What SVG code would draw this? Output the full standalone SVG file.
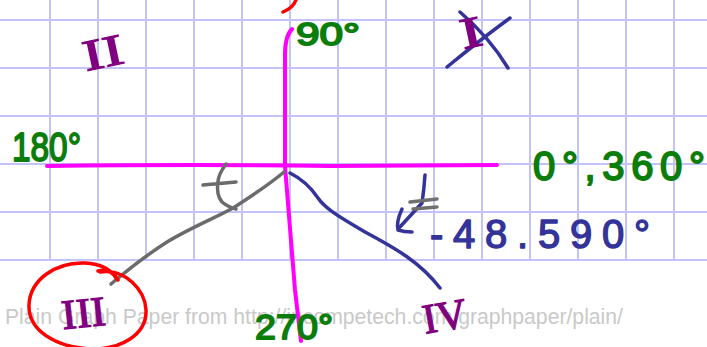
<svg xmlns="http://www.w3.org/2000/svg" width="707" height="347" viewBox="0 0 707 347">
<style>
.grid line{stroke:#c3c3f9;stroke-width:2}
.ink{fill:none;stroke-linecap:round;stroke-linejoin:round}
.mag{stroke:#ff00ff;stroke-width:4}
.green{fill:#0b7d0b;stroke:#0b7d0b;stroke-width:1.8;stroke-linejoin:round;font-family:"Liberation Sans",Arial,sans-serif}
.blue{fill:#333399;stroke:#333399;stroke-width:1.4;stroke-linejoin:round;font-family:"Liberation Sans",Arial,sans-serif}
.roman{fill:#800080;stroke:#800080;stroke-width:1.2;font-family:"Liberation Serif","Times New Roman",serif}
.wm{fill:#c9c9c9;font-family:"Liberation Sans",Arial,sans-serif;font-size:22px}
</style>
<rect width="707" height="347" fill="#ffffff"/>
<g id="grid" class="grid">
<line x1="50" y1="0" x2="50" y2="260"/><line x1="98" y1="0" x2="98" y2="260"/><line x1="146" y1="0" x2="146" y2="260"/><line x1="194" y1="0" x2="194" y2="260"/><line x1="242" y1="0" x2="242" y2="260"/><line x1="290" y1="0" x2="290" y2="260"/><line x1="338" y1="0" x2="338" y2="260"/><line x1="386" y1="0" x2="386" y2="260"/><line x1="434" y1="0" x2="434" y2="260"/><line x1="482" y1="0" x2="482" y2="260"/><line x1="530" y1="0" x2="530" y2="260"/><line x1="578" y1="0" x2="578" y2="260"/><line x1="626" y1="0" x2="626" y2="260"/><line x1="674" y1="0" x2="674" y2="260"/>
<line x1="0" y1="20" x2="707" y2="20"/><line x1="0" y1="68" x2="707" y2="68"/><line x1="0" y1="116" x2="707" y2="116"/><line x1="0" y1="164" x2="707" y2="164"/><line x1="0" y1="212" x2="707" y2="212"/><line x1="0" y1="260" x2="707" y2="260"/>
</g>
<text id="watermark" class="wm" x="5" y="324" textLength="618" lengthAdjust="spacingAndGlyphs">Plain Graph Paper from http://incompetech.com/graphpaper/plain/</text>
<g id="axes" class="ink mag">
<path d="M47,166 Q200,164 330,166 L497,165"/>
<path d="M292,29 Q285,36 285,55 L285,166 L295,290 L301,341"/>
</g>
<g id="connectors" class="ink">
<path id="red-tick" d="M283,12 Q293,8 296,0" stroke="#ff0000" stroke-width="3.5"/>
<path id="gray-ray" d="M284,172 C265,188 245,200 233,208 C215,218 190,228 167,242 C145,256 130,268 111,284" stroke="#6b6b6b" stroke-width="3.5"/>
<path id="blue-ray" d="M290,173 C300,178 310,186 318,198 C326,210 345,220 365,232 C395,248 420,262 440,288" stroke="#333399" stroke-width="3.5"/>
<path id="blue-arrow" d="M425,175 Q424,190 422,203 L399,228 M402,209 Q396,222 398,230 Q404,232 412,232" stroke="#333399" stroke-width="3.5"/>
<path id="gray-equal" d="M410,202 L437,199 M413,209 L437,207" stroke="#707070" stroke-width="3.5"/>
<path id="gray-mark" d="M226,164 Q218,175 218,182 Q216,195 222,202 Q228,207 236,209 M203,185 L236,182" stroke="#6b6b6b" stroke-width="3.5"/>
<path id="red-circle" d="M98,271 Q110,268 116,278 M100,272 C125,268 145,290 146,310 C147,335 120,350 90,349 C55,347 28,330 29,305 C30,280 55,262 85,263 C100,264 110,268 118,280" stroke="#ff0000" stroke-width="3.5"/>
<path id="cross-out" d="M460,12 Q490,38 508,68 M447,67 Q480,40 510,18" stroke="#333399" stroke-width="3.5"/>
</g>
<g id="label-90"><text class="green" x="296" y="45" font-size="32" textLength="64" lengthAdjust="spacingAndGlyphs">90°</text></g>
<g id="label-180"><text class="green" x="12" y="161" font-size="40" textLength="69" lengthAdjust="spacingAndGlyphs">180°</text></g>
<g id="label-0-360"><text class="green" x="533" y="180" font-size="40" textLength="172" lengthAdjust="spacing">0°,360°</text></g>
<g id="label-270"><text class="green" x="255" y="339" font-size="35" textLength="78" lengthAdjust="spacingAndGlyphs">270°</text></g>
<g id="label-angle"><text class="blue" x="430" y="248" font-size="40" textLength="220" lengthAdjust="spacing">-48.590°</text></g>
<g id="quadrant-II"><text class="roman" transform="translate(106,67) rotate(-12) scale(1.4,1)" text-anchor="middle" font-size="44">II</text></g>
<g id="quadrant-I"><text class="roman" transform="translate(474,47) rotate(-12) scale(1.5,1)" text-anchor="middle" font-size="44">I</text></g>
<g id="quadrant-III"><text class="roman" transform="translate(85,327) rotate(-6) scale(1.05,1)" text-anchor="middle" font-size="42">III</text></g>
<g id="quadrant-IV"><text class="roman" transform="translate(447,330) rotate(-10)" text-anchor="middle" font-size="42">IV</text></g>
</svg>
